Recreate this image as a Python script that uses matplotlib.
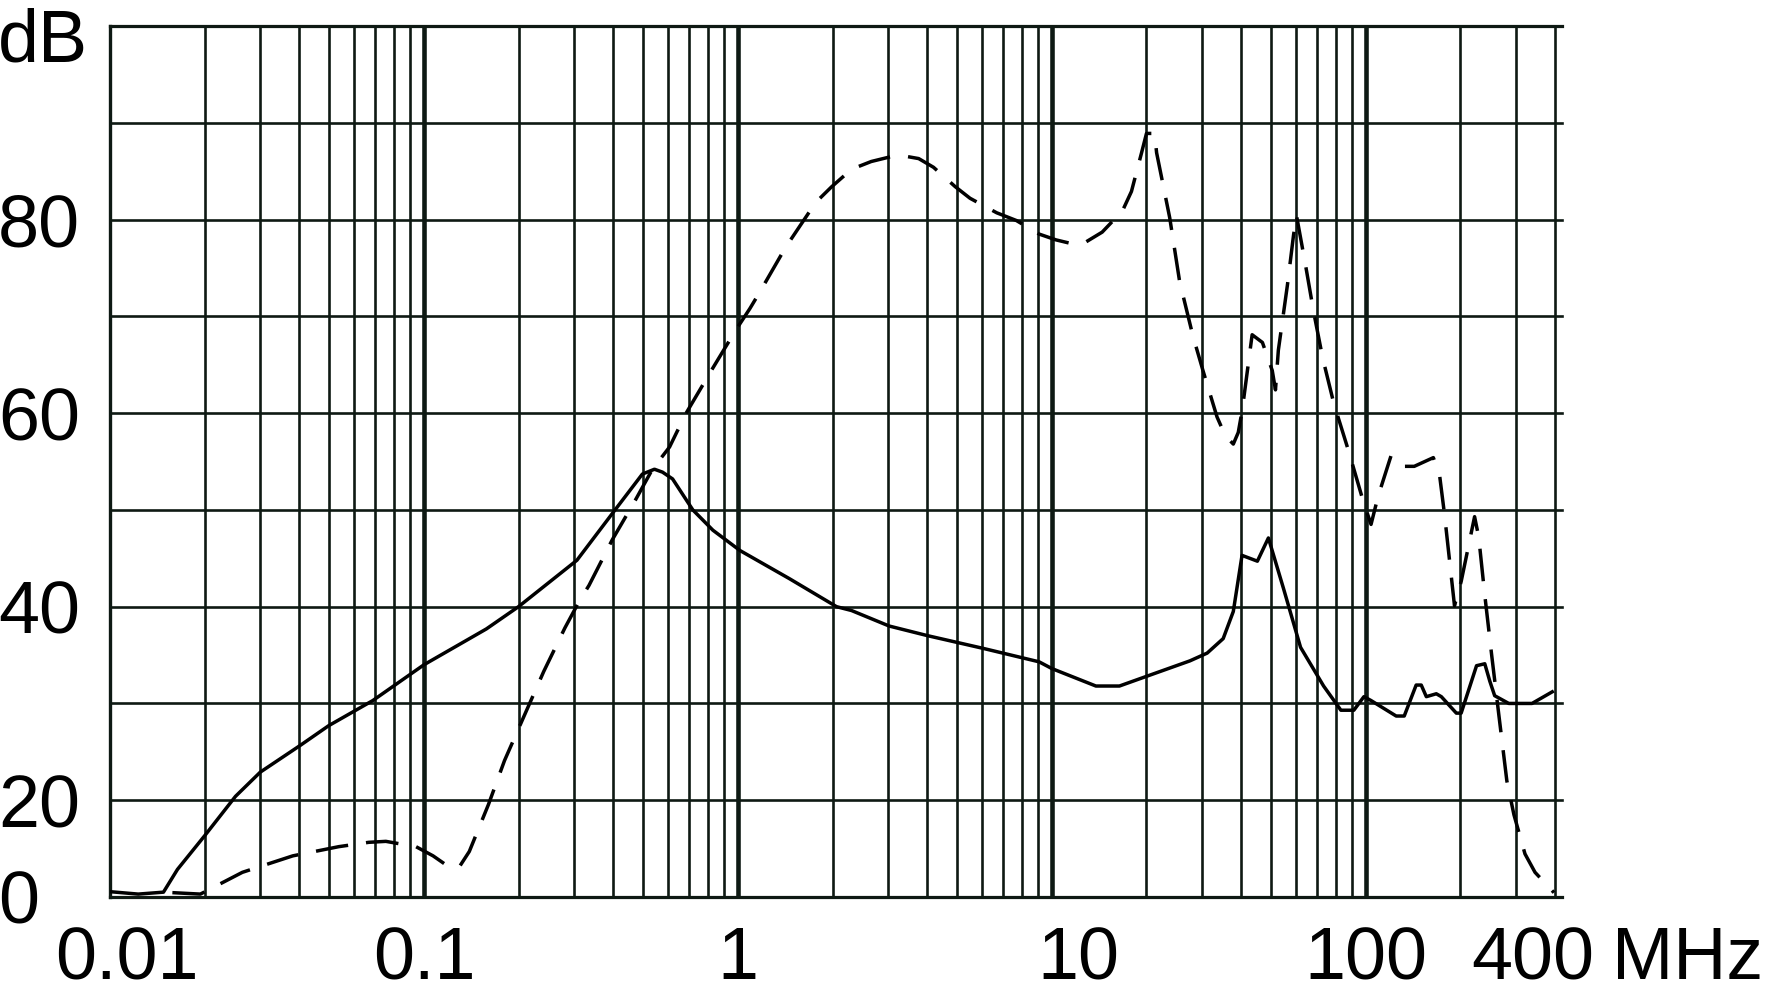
import numpy as np
import matplotlib
matplotlib.use("Agg")
import matplotlib.pyplot as plt
from matplotlib.transforms import ScaledTranslation, blended_transform_factory
from matplotlib.ticker import NullLocator

plt.rcParams['font.family'] = ['Liberation Sans', 'DejaVu Sans']

# ---------------- data (frequency in MHz, level in dB) ----------------
solid_f = [0.01, 0.0123, 0.0148, 0.0164, 0.0201, 0.0251, 0.0301, 0.0405, 0.0497, 0.0687,
           0.1, 0.158, 0.200, 0.307, 0.406, 0.496, 0.542, 0.575, 0.619, 0.718, 0.832,
           1.015, 1.457, 2.06, 2.30, 3.03, 4.02, 6.02, 9.1, 10.0, 13.8, 16.4, 20.0,
           27.5, 31.2, 35.1, 37.8, 40.3, 45.1, 48.9, 54.6, 61.9, 73.3, 83.2, 91.5,
           98.5, 103.8, 124.8, 132.4, 144.5, 150, 155.7, 167.5, 173.8, 194, 201,
           225, 239, 248, 257, 285, 338, 392]
solid_db = [1.1, 0.6, 1.0, 5.7, 12.8, 20.4, 22.9, 25.7, 27.7, 30.3,
            34.0, 37.7, 40.0, 44.8, 50.0, 53.7, 54.2, 53.9, 53.2, 50.0, 47.9,
            45.8, 42.9, 40.0, 39.6, 38.0, 37.0, 35.7, 34.3, 33.6, 31.8, 31.8, 32.8,
            34.4, 35.2, 36.7, 39.5, 45.3, 44.7, 47.1, 41.9, 35.8, 31.8, 29.3, 29.3,
            30.7, 30.3, 28.7, 28.7, 31.9, 31.9, 30.7, 31.0, 30.7, 29.0, 29.0,
            33.9, 34.1, 32.3, 30.8, 30.0, 30.0, 31.2]

dashed_f = [0.0158, 0.0194, 0.0264, 0.0382, 0.0535, 0.0667, 0.0756, 0.0943, 0.1069,
            0.1202, 0.1295, 0.1394, 0.1604, 0.1805, 0.209, 0.2406, 0.281, 0.3115,
            0.3354, 0.3976, 0.471, 0.534, 0.6055, 0.681, 0.819, 0.985, 1.091, 1.173,
            1.416, 1.721, 1.824, 1.989, 2.30, 2.658, 3.072, 3.474, 3.763, 4.195,
            4.918, 5.483, 6.667, 7.703, 9.1, 10.3, 11.59, 12.85, 14.45, 16.77,
            17.91, 19.29, 20.0, 21.23, 21.54, 23.71, 25.5, 28.1, 30.26, 33.55,
            35.6, 37.8, 39.2, 40.35, 43.4, 46.8, 50.3, 51.5, 52.6, 56.2, 58.8,
            60.1, 64.2, 68.1, 72.8, 79.0, 88.2, 97.8, 103.8, 109.3, 120.2, 132.4,
            142.5, 163.9, 171.4, 177.8, 191.4, 201, 221.8, 228.6, 239, 251.6,
            265, 281, 296, 321, 345.5, 397]
dashed_db = [0.9, 0.6, 5.1, 8.5, 10.4, 11.3, 11.5, 10.4, 8.5,
             6.2, 6.2, 9.4, 19.1, 24.1, 28.8, 33.3, 37.8, 40.5,
             42.2, 46.9, 51.0, 54.2, 56.5, 59.9, 64.3, 68.6, 70.8, 72.5,
             77.1, 81.2, 82.2, 83.4, 85.2, 86.0, 86.5, 86.5, 86.3, 85.4,
             83.4, 82.2, 80.7, 79.9, 78.5, 77.9, 77.5, 77.7, 78.7, 80.9,
             82.9, 86.9, 88.9, 88.9, 86.9, 80.2, 73.6, 68.0, 64.4, 59.6,
             57.7, 56.8, 58.0, 60.3, 68.1, 67.3, 64.4, 62.4, 66.5, 73.2, 78.4,
             80.4, 75.3, 70.5, 65.7, 61.0, 56.0, 51.0, 48.5, 51.4, 55.6, 54.5,
             54.5, 55.4, 53.7, 49.6, 40.1, 42.6, 49.3, 47.2, 41.2, 34.9,
             28.8, 22.0, 17.0, 8.9, 5.1, 0.9]

x_ticks = [0.01, 0.1, 1, 10, 100, 400]
x_labels = ['0.01', '0.1', '1', '10', '100', '400']
y_ticks = [0, 20, 40, 60, 80]
y_labels = ['0', '20', '40', '60', '80']
h_grid = [20, 30, 40, 50, 60, 70, 80, 90]

# ---------------- figure ----------------
W, H = 1772, 998
fig = plt.figure(figsize=(W / 100, H / 100), dpi=100)
ax = fig.add_axes([110 / W, 1 - 897 / H, (1555 - 110) / W, (897 - 26) / H])

def fwd(y):
    y = np.asarray(y, float)
    return np.where(y <= 20, y / 20.0, 1 + (y - 20) / 10.0)

def inv(t):
    t = np.asarray(t, float)
    return np.where(t <= 1, 20.0 * t, 20 + 10.0 * (t - 1))

ax.set_xscale('log')
ax.set_yscale('function', functions=(fwd, inv))
ax.set_xlim(0.01, 400)
ax.set_ylim(0, 100)

GRID = '#0e1913'
FS = 53

# vertical grid
for dec in [0.01, 0.1, 1, 10]:
    for k in range(2, 10):
        ax.axvline(k * dec, color=GRID, lw=1.9, zorder=1)
for k in [2, 3]:
    ax.axvline(k * 100, color=GRID, lw=1.9, zorder=1)
for dec in [0.1, 1, 10, 100]:
    ax.axvline(dec, color=GRID, lw=3.3, zorder=1)

# horizontal grid (slightly overshooting the right edge)
ytr = ax.get_yaxis_transform()
for yv in h_grid:
    ax.plot([0, 1.005], [yv, yv], color=GRID, lw=1.9, transform=ytr, clip_on=False, zorder=1)
for yv in [0, 100]:
    ax.plot([0, 1.005], [yv, yv], color=GRID, lw=2.3, transform=ytr, clip_on=False, zorder=1)

for s in ['top', 'bottom']:
    ax.spines[s].set_visible(False)
ax.spines['left'].set_linewidth(2.4)
ax.spines['left'].set_color(GRID)
ax.spines['right'].set_linewidth(1.9)
ax.spines['right'].set_color(GRID)

# curves
ax.plot(solid_f, solid_db, color='black', lw=2.5, zorder=3, solid_joinstyle='round')
ax.plot(dashed_f, dashed_db, color='black', lw=2.5, zorder=3, dashes=(9.4, 5.2),
        dash_capstyle='butt')

# ticks
ax.set_xticks([])
ax.set_yticks([])
ax.xaxis.set_minor_locator(NullLocator())
ax.yaxis.set_minor_locator(NullLocator())

xtr = blended_transform_factory(ax.transData, ax.transAxes)
x_shift = {'0.01': 17, '10': 26, '400': -22}
for v, lab in zip(x_ticks, x_labels):
    dx = x_shift.get(lab, 0)
    ax.text(v, 0, lab, fontsize=FS, ha='center', va='top',
            transform=xtr + ScaledTranslation(dx / 100, -28 / 100, fig.dpi_scale_trans))
fig.text(1612 / W, 1 - 925 / H, 'MHz', fontsize=FS, ha='left', va='top')

ylt = blended_transform_factory(fig.transFigure, ax.transData)
for v, lab in zip(y_ticks, y_labels):
    ax.text(-0.001, v, lab, fontsize=FS, ha='left', va='center_baseline', transform=ylt)
fig.text(-0.001, 1 - 7 / H, 'dB', fontsize=FS, ha='left', va='top')

fig.savefig('out.png', dpi=100)
